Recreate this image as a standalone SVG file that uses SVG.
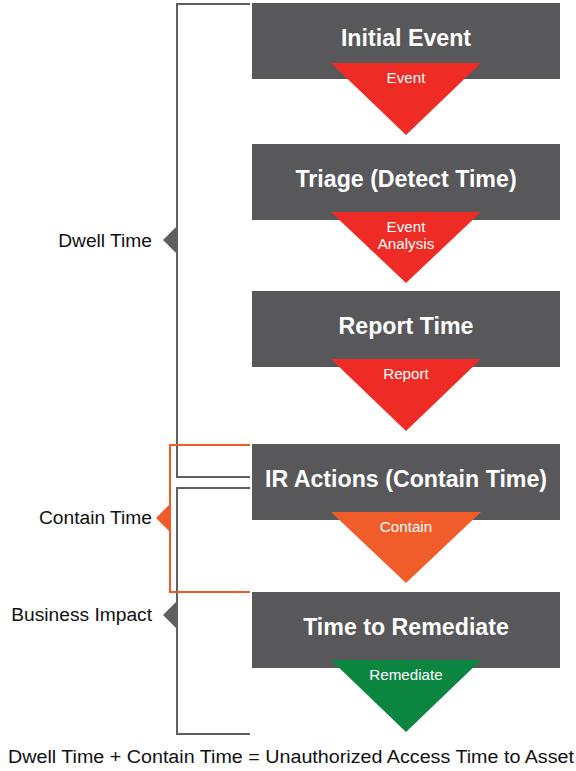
<svg xmlns="http://www.w3.org/2000/svg" width="576" height="771" viewBox="0 0 576 771">
  <style>
    .box { fill: #58585a; }
    .title { font-family: "Liberation Sans", Arial, sans-serif; font-weight: bold; font-size: 23.2px; fill: #ffffff; text-anchor: middle; }
    .tri-label { font-family: "Liberation Sans", Arial, sans-serif; font-size: 15.2px; fill: #ffffff; text-anchor: middle; }
    .side { font-family: "Liberation Sans", Arial, sans-serif; font-size: 19.2px; fill: #111111; text-anchor: end; }
    .foot { font-family: "Liberation Sans", Arial, sans-serif; font-size: 19.2px; fill: #111111; }
    .bracket { fill: none; stroke: #5f5f61; stroke-width: 2; }
    .bracket-o { fill: none; stroke: #f15a29; stroke-width: 2; }
    .red { fill: #ee2b24; }
    .orange { fill: #f15d2a; }
    .green { fill: #0b8540; }
  </style>

  <!-- brackets grouping the stages -->
  <g id="connectors">
    <polyline class="bracket" points="250,4 177,4 177,477 250,477"/>
    <polygon fill="#5f5f61" points="177,226 163,240 177,254"/>
    <polyline class="bracket" points="250,488 177,488 177,734 250,734"/>
    <polygon fill="#5f5f61" points="177,601 163,615 177,629"/>
    <polyline class="bracket-o" points="250,445 170,445 170,592 250,592"/>
    <polygon fill="#f15a29" points="170,504 156,518 170,532"/>
  </g>

  <g id="label-dwell"><text class="side" x="152" y="247">Dwell Time</text></g>
  <g id="label-contain"><text class="side" x="152" y="524">Contain Time</text></g>
  <g id="label-business"><text class="side" x="152" y="621">Business Impact</text></g>

  <g id="initial-event">
    <rect class="box" x="252" y="3" width="308" height="76"/>
    <text class="title" x="406" y="46">Initial Event</text>
    <polygon class="red" points="331,63 481,63 406,135"/>
    <text class="tri-label" x="406" y="83">Event</text>
  </g>

  <g id="triage">
    <rect class="box" x="252" y="144" width="308" height="76"/>
    <text class="title" x="406" y="187">Triage (Detect Time)</text>
    <polygon class="red" points="331,212 481,212 406,283"/>
    <text class="tri-label" x="406" y="232">Event</text>
    <text class="tri-label" x="406" y="249">Analysis</text>
  </g>

  <g id="report">
    <rect class="box" x="252" y="291" width="308" height="76"/>
    <text class="title" x="406" y="334">Report Time</text>
    <polygon class="red" points="331,359 481,359 406,431"/>
    <text class="tri-label" x="406" y="379">Report</text>
  </g>

  <g id="ir-actions">
    <rect class="box" x="252" y="444" width="308" height="76"/>
    <text class="title" x="406" y="487">IR Actions (Contain Time)</text>
    <polygon class="orange" points="331,512 481,512 406,583"/>
    <text class="tri-label" x="406" y="532">Contain</text>
  </g>

  <g id="remediate">
    <rect class="box" x="252" y="592" width="308" height="76"/>
    <text class="title" x="406" y="635">Time to Remediate</text>
    <polygon class="green" points="331,660 481,660 406,732"/>
    <text class="tri-label" x="406" y="680">Remediate</text>
  </g>

  <g id="equation">
    <text class="foot" x="8" y="763" textLength="566" lengthAdjust="spacingAndGlyphs">Dwell Time + Contain Time = Unauthorized Access Time to Asset</text>
  </g>
</svg>
